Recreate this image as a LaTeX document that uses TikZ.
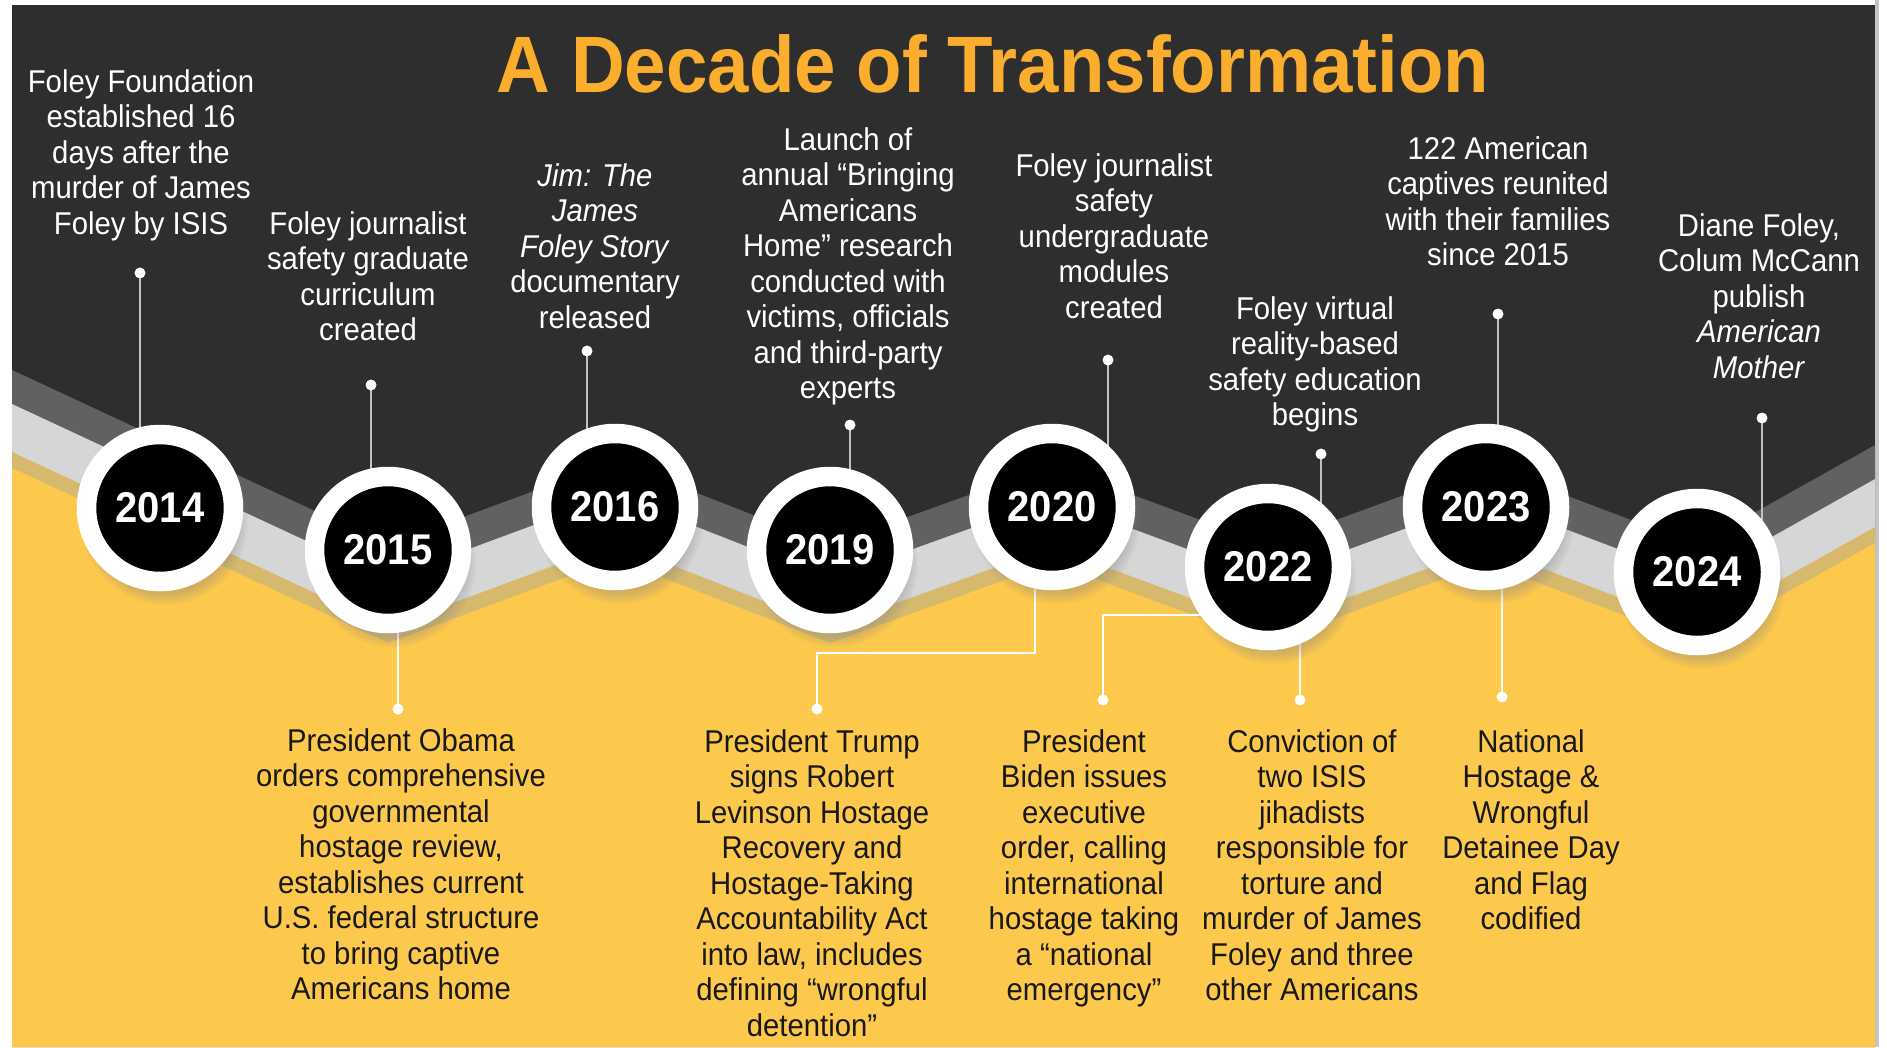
\documentclass[tikz,border=0pt]{standalone}
\usepackage{fontspec}
\setmainfont{Liberation Sans}[FakeStretch=0.93]
\usetikzlibrary{shadows, calc}

\definecolor{panel}{HTML}{2E2E2E}
\definecolor{bandA}{HTML}{616161}
\definecolor{bandB}{HTML}{D6D6D6}
\definecolor{bandC}{HTML}{D6B96C}
\definecolor{gold}{HTML}{FDC94D}
\definecolor{titlegold}{HTML}{FBAE2D}
\definecolor{stemgray}{HTML}{C2C2C2}
\definecolor{edgegray}{HTML}{C4C4CA}

\tikzset{
	yearball/.style={circle, fill=black, draw=white, line width=19.5pt, minimum size=147pt, inner sep=0pt,
		text=white, font=\bfseries\fontsize{43}{43}\selectfont,
		circular drop shadow={shadow xshift=4pt, shadow yshift=-12pt, shadow scale=1.14, opacity=0.35}},
	event/.style={align=center, inner sep=0pt, anchor=north, font=\fontsize{31.5}{35.5}\selectfont},
	upper/.style={event, text=white},
	lower/.style={event, text=black!90},
	stem/.style={draw=stemgray, line width=2pt},
	stemw/.style={draw=white, line width=2pt}
}

\begin{document}
\begin{tikzpicture}[x=1pt, y=-1pt]
	\useasboundingbox (0,0) rectangle (1887,1047);
	\fill[white] (0,0) rectangle (1887,1047);
	\fill[panel] (12,5) rectangle (1875,1047);
	\fill[edgegray] (1875,0) rectangle (1879,1047);

	\coordinate (c14) at (160,508);
	\coordinate (c15) at (388,550);
	\coordinate (c16) at (615,507);
	\coordinate (c19) at (830,550);
	\coordinate (c20) at (1052,507);
	\coordinate (c22) at (1268,567);
	\coordinate (c23) at (1486,507);
	\coordinate (c24) at (1697,572);

	\foreach \o/\c in {0/bandA, 34/bandB, 82/bandC, 98/gold}
		\fill[\c] (12,{370+\o}) -- (388,{545+\o}) -- (615,{461+\o}) -- (830,{545+\o}) -- (1052,{465+\o})
			-- (1268,{545+\o}) -- (1486,{465+\o}) -- (1697,{545+\o}) -- (1875,{445+\o}) -- (1875,1047) -- (12,1047) -- cycle;

	\node[font=\bfseries\fontsize{80}{80}\selectfont, text=titlegold, anchor=base] (title) at (993,92) {A Decade of Transformation};

	\coordinate (t14) at (140,273);
	\coordinate (t15) at (371,385);
	\coordinate (t16) at (587,351);
	\coordinate (t19) at (850,425);
	\coordinate (t20) at (1108,360);
	\coordinate (t22) at (1321,454);
	\coordinate (t23) at (1498,314);
	\coordinate (t24) at (1762,418);

	\coordinate (b15) at (398,709);
	\coordinate (b20) at (817,709);
	\coordinate (k20) at (1035,653);
	\coordinate (b22a) at (1103,700);
	\coordinate (k22) at (1230,615);
	\coordinate (b22b) at (1300,700);
	\coordinate (b23) at (1502,697);

	\foreach \t/\c in {t14/c14, t15/c15, t16/c16, t19/c19, t20/c20, t22/c22, t23/c23, t24/c24}
		\draw[stem] (\t) -- (\t |- \c);
	\draw[stemw] (b15) -- (b15 |- c15);
	\draw[stemw] (b20) |- (k20) -- (k20 |- c20);
	\draw[stemw] (b22a) |- (k22);
	\draw[stemw] (b22b) -- (b22b |- c22);
	\draw[stemw] (b23) -- (b23 |- c23);
	\foreach \d in {t14, t15, t16, t19, t20, t22, t23, t24, b15, b20, b22a, b22b, b23}
		\fill[white] (\d) circle (5.5pt);

	\foreach \c/\yr in {c14/2014, c15/2015, c16/2016, c19/2019, c20/2020, c22/2022, c23/2023, c24/2024}
		\node[yearball] (y\yr) at (\c) {\yr};

	\node[upper] (e14) at (141,69) {Foley Foundation\\established 16\\days after the\\murder of James\\Foley by ISIS};
	\node[upper] (e15) at (368,211) {Foley journalist\\safety graduate\\curriculum\\created};
	\node[upper] (e16) at (595,163) {\textit{Jim: The}\\\textit{James}\\\textit{Foley Story}\\documentary\\released};
	\node[upper] (e19) at (848,127) {Launch of\\annual “Bringing\\Americans\\Home” research\\conducted with\\victims, officials\\and third-party\\experts};
	\node[upper] (e20) at (1114,153) {Foley journalist\\safety\\undergraduate\\modules\\created};
	\node[upper] (e22) at (1315,296) {Foley virtual\\reality-based\\safety education\\begins};
	\node[upper] (e23) at (1498,136) {122 American\\captives reunited\\with their families\\since 2015};
	\node[upper] (e24) at (1759,213) {Diane Foley,\\Colum McCann\\publish\\\textit{American}\\\textit{Mother}};

	\node[lower] (f15) at (401,728) {President Obama\\orders comprehensive\\governmental\\hostage review,\\establishes current\\U.S. federal structure\\to bring captive\\Americans home};
	\node[lower] (f20) at (812,729) {President Trump\\signs Robert\\Levinson Hostage\\Recovery and\\Hostage-Taking\\Accountability Act\\into law, includes\\defining “wrongful\\detention”};
	\node[lower] (f22a) at (1084,729) {President\\Biden issues\\executive\\order, calling\\international\\hostage taking\\a “national\\emergency”};
	\node[lower] (f22b) at (1312,729) {Conviction of\\two ISIS\\jihadists\\responsible for\\torture and\\murder of James\\Foley and three\\other Americans};
	\node[lower] (f23) at (1531,729) {National\\Hostage \&\\Wrongful\\Detainee Day\\and Flag\\codified};
\end{tikzpicture}
\end{document}
